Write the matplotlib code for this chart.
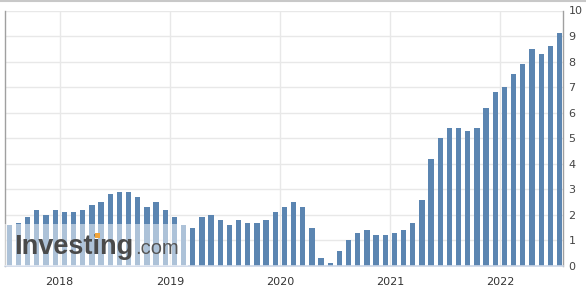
import numpy as np
import matplotlib.pyplot as plt
from matplotlib.lines import Line2D
from matplotlib.patches import Rectangle

# monthly values, Jul 2017 .. Jul 2022 (release months)
valores = [
    1.6, 1.7, 1.9, 2.2, 2.0, 2.2, 2.1,
    2.1, 2.2, 2.4, 2.5, 2.8, 2.9, 2.9, 2.7, 2.3, 2.5, 2.2, 1.9,
    1.6, 1.5, 1.9, 2.0, 1.8, 1.6, 1.8, 1.7, 1.7, 1.8, 2.1, 2.3,
    2.5, 2.3, 1.5, 0.3, 0.1, 0.6, 1.0, 1.3, 1.4, 1.2, 1.2, 1.3,
    1.4, 1.7, 2.6, 4.2, 5.0, 5.4, 5.4, 5.3, 5.4, 6.2, 6.8, 7.0,
    7.5, 7.9, 8.5, 8.3, 8.6, 9.1,
]
anos = ["2018", "2019", "2020", "2021", "2022"]
inicio_mes = 7  # first bar is July 2017

x = np.arange(len(valores))
# January boundaries fall halfway between Dec and Jan bars
pos_anos = [(12 - inicio_mes + 1) + 12 * k - 0.5 for k in range(len(anos))]

fig = plt.figure(figsize=(5.86, 2.91), dpi=100)
W, H = 586, 291
ax = fig.add_axes([5 / W, 25 / H, 558 / W, 255.5 / H])

ax.bar(x, valores, width=0.58, color="#5b85b1", zorder=2)

ax.set_xlim(-0.47, 60.38)
ax.set_ylim(0, 10)
ax.set_yticks(np.arange(0, 11, 1))
ax.set_xticks(pos_anos)
ax.set_xticklabels(anos)

ax.yaxis.tick_right()
ax.tick_params(axis="y", length=0, pad=4, labelsize=8, labelcolor="#444444")
ax.tick_params(axis="x", length=0, pad=8, labelsize=8, labelcolor="#333333")
ax.grid(True, color="#e8e8e8", linewidth=1, zorder=0)
ax.set_axisbelow(True)

for lado in ["left", "right"]:
    ax.spines[lado].set_color("#a0a0a0")
    ax.spines[lado].set_linewidth(1)
ax.spines["top"].set_visible(False)
ax.spines["bottom"].set_color("#ccd6e6")
ax.spines["bottom"].set_linewidth(1.2)

# top border line of the widget
fig.add_artist(Line2D([0, 1], [1 - 1 / H, 1 - 1 / H], color="#c8c8c8", linewidth=1.5))

# watermark box
fig.add_artist(Rectangle((0, 25 / H), 188 / W, 42 / H, transform=fig.transFigure,
                         facecolor="white", alpha=0.5, edgecolor="none", zorder=5))
fig.text(14 / W, 1 - 254 / H, "Investing", fontsize=19.5, fontweight="bold",
         family="Liberation Sans", color="#4a4a4a", zorder=6, va="baseline")
fig.text(135 / W, 1 - 254 / H, ".com", fontsize=14.5, family="Liberation Sans",
         color="#555555", zorder=6, va="baseline")
fig.add_artist(Rectangle((95 / W, 1 - 237.5 / H), 5 / W, 4.5 / H, transform=fig.transFigure,
                         facecolor="#f2a53a", edgecolor="none", zorder=7))

fig.savefig("out.png", dpi=100)
